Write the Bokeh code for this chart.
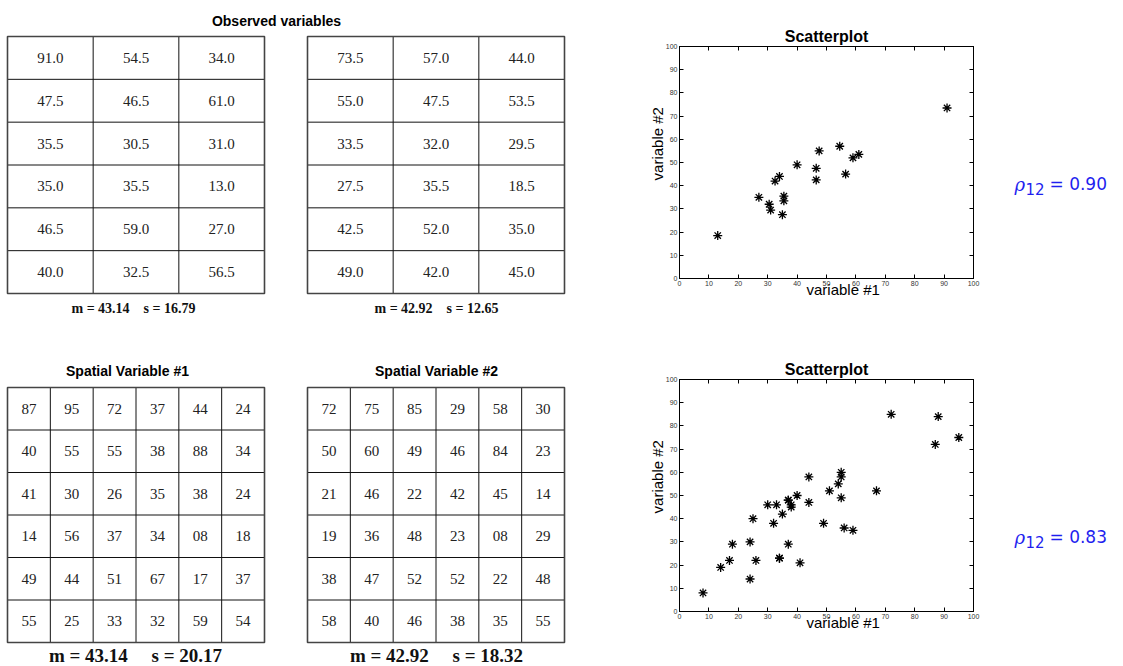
from bokeh.plotting import figure
from bokeh.layouts import row, column
from bokeh.models import Range1d, LinearAxis, FixedTicker
from bokeh.embed import file_html
from bokeh.resources import INLINE
from bokeh.core.properties import value

# ---------------- data ----------------
obs_var1 = [[91.0, 54.5, 34.0],
            [47.5, 46.5, 61.0],
            [35.5, 30.5, 31.0],
            [35.0, 35.5, 13.0],
            [46.5, 59.0, 27.0],
            [40.0, 32.5, 56.5]]
obs_var2 = [[73.5, 57.0, 44.0],
            [55.0, 47.5, 53.5],
            [33.5, 32.0, 29.5],
            [27.5, 35.5, 18.5],
            [42.5, 52.0, 35.0],
            [49.0, 42.0, 45.0]]
sp_var1 = [[87, 95, 72, 37, 44, 24],
           [40, 55, 55, 38, 88, 34],
           [41, 30, 26, 35, 38, 24],
           [14, 56, 37, 34, 8, 18],
           [49, 44, 51, 67, 17, 37],
           [55, 25, 33, 32, 59, 54]]
sp_var2 = [[72, 75, 85, 29, 58, 30],
           [50, 60, 49, 46, 84, 23],
           [21, 46, 22, 42, 45, 14],
           [19, 36, 48, 23, 8, 29],
           [38, 47, 52, 52, 22, 48],
           [58, 40, 46, 38, 35, 55]]
obs_means = [43.14, 42.92]
obs_sds = [16.79, 12.65]
sp_means = [43.14, 42.92]
sp_sds = [20.17, 18.32]
rho_values = ["0.90", "0.83"]
table_titles = ["Observed variables", "Spatial Variable #1", "Spatial Variable #2"]
scatter_title = "Scatterplot"
x_label = "variable #1"
y_label = "variable #2"
axis_ticks = [0, 10, 20, 30, 40, 50, 60, 70, 80, 90, 100]

SERIF = "Liberation Serif"
SANS = "Liberation Sans"
NB = "\u00a0"


def bare(fig):
    fig.axis.visible = False
    fig.xgrid.visible = False
    fig.ygrid.visible = False
    fig.outline_line_color = None
    fig.min_border = 0
    return fig


# ---------------- left panel: tables ----------------
left = bare(figure(width=640, height=666, x_range=Range1d(0, 640), y_range=Range1d(666, 0),
                   output_backend="svg", toolbar_location=None))


def draw_table(fig, vals, x0, y0, w, h, fmt, size):
    nr, nc = len(vals), len(vals[0])
    cw, rh = w / nc, h / nr
    xs0, ys0, xs1, ys1 = [], [], [], []
    for j in range(1, nc):
        xs0.append(x0 + j * cw); xs1.append(x0 + j * cw); ys0.append(y0); ys1.append(y0 + h)
    for i in range(1, nr):
        xs0.append(x0); xs1.append(x0 + w); ys0.append(y0 + i * rh); ys1.append(y0 + i * rh)
    fig.segment(xs0, ys0, xs1, ys1, line_color="#111111", line_width=1)
    fig.quad(left=[x0], right=[x0 + w], top=[y0], bottom=[y0 + h], fill_color=None,
             line_color="#444444", line_width=1.6)
    tx, ty, tt = [], [], []
    for i in range(nr):
        for j in range(nc):
            tx.append(x0 + (j + 0.5) * cw)
            ty.append(y0 + (i + 0.5) * rh)
            tt.append(fmt(vals[i][j]))
    fig.text(tx, ty, text=tt, text_align="center", text_baseline="middle",
             text_font=value(SERIF), text_font_size=size, text_color="#222222")


fmt1 = lambda v: "%.1f" % v
fmt2 = lambda v: "%02d" % v
draw_table(left, obs_var1, 7, 36, 257, 257, fmt1, "15px")
draw_table(left, obs_var2, 307, 36, 257, 257, fmt1, "15px")
draw_table(left, sp_var1, 7, 387, 257, 255, fmt2, "15px")
draw_table(left, sp_var2, 307, 387, 257, 255, fmt2, "15px")

left.text([276, 127, 436], [20, 370, 370], text=table_titles, text_align="center",
          text_baseline="middle", text_font=value(SANS), text_font_style="bold",
          text_font_size="14px", text_color="#000000")

obs_txt = ["m = %.2f%ss = %.2f" % (m, NB * 4, s) for m, s in zip(obs_means, obs_sds)]
sp_txt = ["m = %.2f%ss = %.2f" % (m, NB * 5, s) for m, s in zip(sp_means, sp_sds)]
left.text([133, 436], [308, 308], text=obs_txt, text_align="center", text_baseline="middle",
          text_font=value(SERIF), text_font_style="bold", text_font_size="14px", text_color="#111111")
left.text([135, 436], [655, 655], text=sp_txt, text_align="center", text_baseline="middle",
          text_font=value(SERIF), text_font_style="bold", text_font_size="19px", text_color="#111111")


# ---------------- scatterplots ----------------
def flat(t):
    return [v for r in t for v in r]


def scatter_fig(xv, yv):
    p = figure(width=360, height=333, x_range=Range1d(0, 100), y_range=Range1d(0, 100),
               output_backend="svg", toolbar_location=None, title=scatter_title,
               x_axis_location=None, y_axis_location=None,
               min_border_left=39, min_border_right=27, min_border_top=46, min_border_bottom=55)
    p.xgrid.visible = False
    p.ygrid.visible = False
    p.outline_line_color = "black"
    p.outline_line_width = 1
    p.title.text_font = SANS
    p.title.text_font_size = "16px"
    p.title.text_font_style = "bold"
    p.title.text_color = "#000000"
    p.title.align = "center"
    p.title.standoff = 4

    def style(ax, labels=True):
        ax.ticker = FixedTicker(ticks=axis_ticks)
        ax.major_tick_in = 4
        ax.major_tick_out = 0
        ax.minor_tick_line_color = None
        ax.axis_line_color = "black"
        ax.major_tick_line_color = "black"
        if labels:
            ax.major_label_text_font = SANS
            ax.major_label_text_font_size = "7px"
            ax.major_label_text_color = "#333333"
            ax.major_label_standoff = 2
            ax.axis_label_text_font = SANS
            ax.axis_label_text_font_size = "15px"
            ax.axis_label_text_font_style = "normal"
            ax.axis_label_text_color = "#000000"
        else:
            ax.major_label_text_font_size = "0px"
            ax.major_label_text_color = None
            ax.major_label_standoff = 0

    xb = LinearAxis(axis_label=NB * 8 + x_label)
    style(xb)
    xb.axis_label_standoff = -8
    yl = LinearAxis(axis_label=NB * 9 + y_label)
    style(yl)
    yl.axis_label_standoff = -3
    xt = LinearAxis()
    style(xt, False)
    yr = LinearAxis()
    style(yr, False)
    p.add_layout(xb, "below")
    p.add_layout(yl, "left")
    p.add_layout(xt, "above")
    p.add_layout(yr, "right")
    p.scatter(xv, yv, marker="asterisk", size=9, line_color="black", line_width=1.3)
    return p


sc1 = scatter_fig(flat(obs_var1), flat(obs_var2))
sc2 = scatter_fig(flat(sp_var1), flat(sp_var2))


def rho_fig(r, yc):
    f = bare(figure(width=123, height=333, x_range=Range1d(0, 123), y_range=Range1d(333, 0),
                    output_backend="svg", toolbar_location=None))
    blue = "#1f1fef"
    f.text([14], [yc], text=["\u03c1"], text_align="left", text_baseline="middle",
           text_font=value("DejaVu Serif"), text_font_style="italic", text_font_size="18px",
           text_color=blue)
    f.text([25], [yc + 4], text=["12"], text_align="left", text_baseline="middle",
           text_font=value("DejaVu Sans"), text_font_size="15px", text_color=blue)
    f.text([49], [yc - 1], text=["= " + r], text_align="left", text_baseline="middle",
           text_font=value("DejaVu Sans"), text_font_size="17px", text_color=blue)
    return f


r1 = rho_fig(rho_values[0], 184)
r2 = rho_fig(rho_values[1], 537 - 333)

layout = row(left, column(sc1, sc2), column(r1, r2))

with open("out.html", "w") as fh:
    fh.write(file_html(layout, INLINE))
